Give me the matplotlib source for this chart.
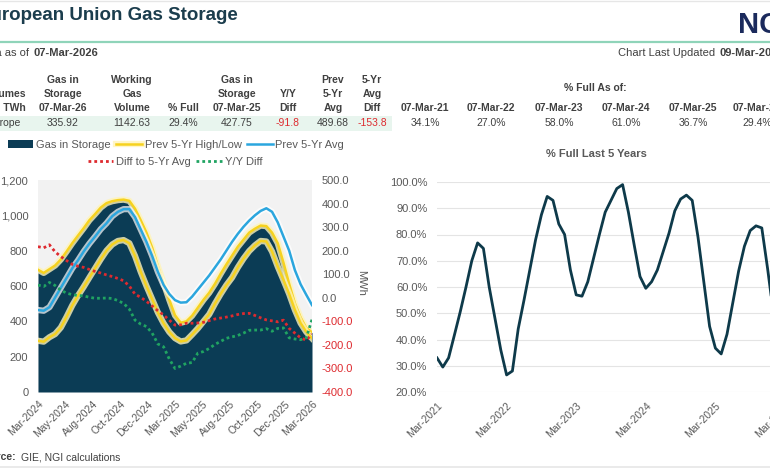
import numpy as np
import matplotlib
matplotlib.use('Agg')
import matplotlib.pyplot as plt
import matplotlib.patheffects as pe
from matplotlib.lines import Line2D
from matplotlib.patches import Rectangle
from matplotlib.ticker import FuncFormatter

plt.rcParams['font.family'] = ['Liberation Sans', 'DejaVu Sans']

W, H = 770, 470


def fx(x):
    return x / W


def fy(y):
    return 1 - y / H


# left chart, half-month steps from Mar-2024 to Mar-2026 (TWh / MWh)
storage = [690, 672, 693, 714, 748, 793, 840, 883, 925, 970, 1005, 1042, 1067, 1078, 1084, 1087,
           1080, 1035, 970, 900, 815, 710, 615, 520, 432, 390, 398, 430, 475, 520, 560, 610,
           667, 720, 770, 820, 860, 900, 922, 940, 937, 900, 840, 730, 610, 500, 420, 360, 336]
high5 = [692, 674, 695, 716, 750, 795, 842, 885, 927, 972, 1007, 1044, 1069, 1080, 1086, 1089,
         1082, 1037, 972, 902, 817, 712, 617, 522, 434, 392, 400, 432, 477, 522, 562, 612,
         669, 722, 772, 822, 862, 902, 924, 942, 939, 902, 842, 732, 612, 502, 422, 362, 338]
low5 = [290, 285, 310, 328, 365, 425, 490, 545, 595, 648, 700, 752, 800, 835, 855, 860,
        842, 770, 680, 600, 525, 450, 389, 340, 305, 286, 292, 325, 360, 400, 440, 500,
        555, 605, 648, 705, 755, 798, 830, 855, 852, 795, 710, 634, 555, 465, 390, 340, 304]
avg5 = [464, 460, 480, 535, 590, 645, 700, 745, 795, 840, 880, 922, 955, 995, 1020, 1035,
        1035, 990, 920, 850, 770, 680, 606, 555, 520, 506, 508, 540, 580, 620, 660, 705,
        750, 800, 850, 895, 935, 970, 1000, 1025, 1040, 1020, 960, 880, 800, 690, 610, 550, 492]
diff_avg = [217, 212, 225, 195, 175, 158, 142, 134, 129, 120, 112, 105, 97, 90, 82, 72,
            50, 15, 2, -15, -35, -55, -73, -95, -116, -115, -108, -108, -107, -104, -97, -90,
            -86, -82, -77, -71, -67, -66, -75, -85, -94, -98, -102, -95, -130, -150, -170, -180, -154]
yy_diff = [54, 48, 65, 52, 32, 20, 13, 10, 8, 2, -2, -2, -1, -3, -12, -24,
           -48, -95, -112, -122, -150, -196, -208, -260, -300, -290, -278, -275, -235, -228, -215, -198,
           -185, -172, -166, -160, -150, -138, -137, -137, -131, -142, -130, -128, -170, -175, -178, -170, -92]
left_ticks = ['Mar-2024', 'May-2024', 'Aug-2024', 'Oct-2024', 'Dec-2024', 'Mar-2025',
              'May-2025', 'Aug-2025', 'Oct-2025', 'Dec-2025', 'Mar-2026']

# right chart, monthly % full Mar-2021 .. Mar-2026
pct_full = [33, 29.5, 33, 41.7, 50.5, 60, 70, 76.8, 74.7, 60,
            48, 36, 26.5, 28, 44, 55, 66.5, 78, 87.5, 94.5,
            93, 84, 80, 66.5, 57, 56.5, 62, 71, 80, 88.5,
            93, 97.5, 99, 88.5, 76, 64, 59.5, 62, 66.5, 73.5,
            80.5, 89, 93.5, 95, 93, 79, 62, 45, 36.7, 34.5,
            42, 54, 66, 75.5, 81.5, 83.3, 82.5, 67, 50, 36, 29.4]
right_ticks = ['Mar-2021', 'Mar-2022', 'Mar-2023', 'Mar-2024', 'Mar-2025', 'Mar-2026']

# summary table
tbl_x = [63, 132, 183, 237, 288, 333, 372]
tbl_head = [['Gas in', 'Storage', '07-Mar-26'], ['Working', 'Gas', 'Volume'], ['', '', '% Full'],
            ['Gas in', 'Storage', '07-Mar-25'], ['', 'Y/Y', 'Diff'], ['Prev', '5-Yr', 'Avg'],
            ['5-Yr', 'Avg', 'Diff']]
tbl_vals = ['335.92', '1142.63', '29.4%', '427.75', '-91.8', '489.68', '-153.8']
pct_x = [425, 491, 559, 626, 693, 757]
pct_dates = ['07-Mar-21', '07-Mar-22', '07-Mar-23', '07-Mar-24', '07-Mar-25', '07-Mar-26']
pct_vals = ['34.1%', '27.0%', '58.0%', '61.0%', '36.7%', '29.4%']

NAVY = '#0b3c55'
YELLOW = '#f6d21f'
BLUE = '#2ba6de'
RED = '#de2a2f'
GREEN = '#20a462'
GREY = '#595959'
TXT = '#404040'

fig = plt.figure(figsize=(7.7, 4.7), dpi=100)

# ---------------- header ----------------
fig.add_artist(Line2D([0, 1], [fy(1), fy(1)], color='#e6e6e6', lw=1, transform=fig.transFigure))
fig.text(fx(-22), fy(16), 'European Union Gas Storage', fontsize=13.5, fontweight='bold',
         color='#1b3d4d', va='center', ha='left')
fig.text(fx(738), fy(25), 'NGI', fontsize=21, fontweight='bold', color='#1b2a5c', va='center', ha='left')
fig.add_artist(Line2D([0, 1], [fy(42), fy(42)], color='#8fd4b9', lw=1.6, transform=fig.transFigure))

fig.text(fx(29), fy(53), 'Data as of', fontsize=8, color=TXT, ha='right', va='center')
fig.text(fx(33), fy(53), '07-Mar-2026', fontsize=8, fontweight='bold', color=TXT, ha='left', va='center')
fig.text(fx(715), fy(53), 'Chart Last Updated', fontsize=8, color=TXT, ha='right', va='center')
fig.text(fx(719), fy(53), '09-Mar-2026', fontsize=8, fontweight='bold', color=TXT, ha='left', va='center')

# table
fig.add_artist(Rectangle((0, fy(131)), fx(392), 15 / H, color='#e8f5ee', lw=0,
                         transform=fig.transFigure, zorder=0))
fig.text(fx(26), fy(94), 'Volumes', fontsize=7.5, fontweight='bold', color=TXT, ha='right', va='center')
fig.text(fx(26), fy(108), 'in TWh', fontsize=7.5, fontweight='bold', color=TXT, ha='right', va='center')
fig.text(fx(21), fy(123), 'Europe', fontsize=7.5, color=TXT, ha='right', va='center')
for cx, lines, val in zip(tbl_x, tbl_head, tbl_vals):
    for ry, s in zip([80, 94, 108], lines):
        fig.text(fx(cx), fy(ry), s, fontsize=7.5, fontweight='bold', color=TXT, ha='center', va='center')
    fig.text(fx(cx), fy(123), val, fontsize=7.5, color=RED if val.startswith('-') else TXT,
             ha='center', va='center')

fig.text(fx(595), fy(88), '% Full As of:', fontsize=7.5, fontweight='bold', color=TXT, ha='center', va='center')
for cx, d, v in zip(pct_x, pct_dates, pct_vals):
    fig.text(fx(cx), fy(108), d, fontsize=7.5, fontweight='bold', color=TXT, ha='center', va='center')
    fig.text(fx(cx), fy(123), v, fontsize=7.5, color=TXT, ha='center', va='center')

# ---------------- left chart ----------------
ax = fig.add_axes([fx(38), fy(392), 274 / W, 212 / H])
ax.set_facecolor('#f2f2f2')
x = np.arange(len(storage)) * 0.5
h_fill = ax.fill_between(x, 0, storage, color=NAVY, lw=0)
glow_y = [pe.Stroke(linewidth=4.5, foreground='#fff4b8', alpha=0.8), pe.Normal()]
glow_b = [pe.Stroke(linewidth=4.5, foreground='white', alpha=0.7), pe.Normal()]
h_high, = ax.plot(x, high5, color=YELLOW, lw=1.8, path_effects=glow_y)
ax.plot(x, low5, color=YELLOW, lw=1.8, path_effects=glow_y)
h_avg, = ax.plot(x, avg5, color=BLUE, lw=1.8, path_effects=glow_b)
ax.set_xlim(0, 24)
ax.set_ylim(0, 1200)
ax.set_yticks(range(0, 1201, 200))
ax.yaxis.set_major_formatter(FuncFormatter(lambda v, p: f'{v:,.0f}'))
ax.set_xticks(np.linspace(0, 24, len(left_ticks)))
ax.set_xticklabels(left_ticks, rotation=45, ha='right', rotation_mode='anchor')
ax.tick_params(axis='y', length=0, pad=7, labelsize=8, colors=GREY)
ax.tick_params(axis='x', length=0, pad=5, labelsize=7.5, colors=GREY)

ax2 = ax.twinx()
h_red, = ax2.plot(x, diff_avg, color=RED, lw=2, ls=(0, (1, 1.1)))
h_green, = ax2.plot(x, yy_diff, color=GREEN, lw=2, ls=(0, (1, 1.1)))
ax2.set_ylim(-400, 500)
rt = list(range(-400, 501, 100))
ax2.set_yticks(rt)
ax2.set_yticklabels([f'{v:.1f}' for v in rt])
ax2.tick_params(axis='y', length=0, pad=7, labelsize=8)
for v, lbl in zip(rt, ax2.get_yticklabels()):
    lbl.set_color(RED if v < 0 else GREY)
for a in (ax, ax2):
    for s in a.spines.values():
        s.set_visible(False)
fig.text(fx(361), fy(283), 'MWh', rotation=270, fontsize=8, color=GREY, ha='center', va='center')

leg_kw = dict(frameon=False, fontsize=8, handlelength=2.3, handletextpad=0.25,
              columnspacing=0.5, borderpad=0, borderaxespad=0, labelcolor=GREY, loc='center')
fig.legend([h_fill, h_high, h_avg], ['Gas in Storage', 'Prev 5-Yr High/Low', 'Prev 5-Yr Avg'],
           ncol=3, bbox_to_anchor=(fx(176), fy(145)), **leg_kw)
fig.legend([h_red, h_green], ['Diff to 5-Yr Avg', 'Y/Y Diff'],
           ncol=2, bbox_to_anchor=(fx(175), fy(162)), **leg_kw)

# ---------------- right chart ----------------
axr = fig.add_axes([fx(437), fy(392), 348 / W, 210 / H])
axr.plot(np.arange(len(pct_full)), pct_full, color='#0e3a4a', lw=2)
axr.set_xlim(0, 60)
axr.set_ylim(20, 100)
pt = list(range(20, 101, 10))
axr.set_yticks(pt)
axr.set_yticklabels([f'{v:.1f}%' for v in pt])
axr.set_xticks(range(0, 61, 12))
axr.set_xticklabels(right_ticks, rotation=45, ha='right', rotation_mode='anchor')
axr.grid(axis='y', color='#e4e4e4', lw=0.8)
axr.set_axisbelow(True)
axr.tick_params(axis='y', length=0, pad=7, labelsize=8, colors=GREY)
axr.tick_params(axis='x', length=0, pad=6, labelsize=7.5, colors=GREY)
for s in axr.spines.values():
    s.set_visible(False)
fig.text(fx(596), fy(154), '% Full Last 5 Years', fontsize=8, fontweight='bold', color=GREY,
         ha='center', va='center')

# ---------------- footer ----------------
fig.text(fx(16), fy(457), 'Source:', fontsize=7.5, fontweight='bold', color=TXT, ha='right', va='center')
fig.text(fx(21), fy(457), 'GIE, NGI calculations', fontsize=7.5, color=TXT, ha='left', va='center')
fig.add_artist(Line2D([0, 1], [fy(467), fy(467)], color='#e6e6e6', lw=1.2, transform=fig.transFigure))

fig.savefig('out.png', dpi=100)
